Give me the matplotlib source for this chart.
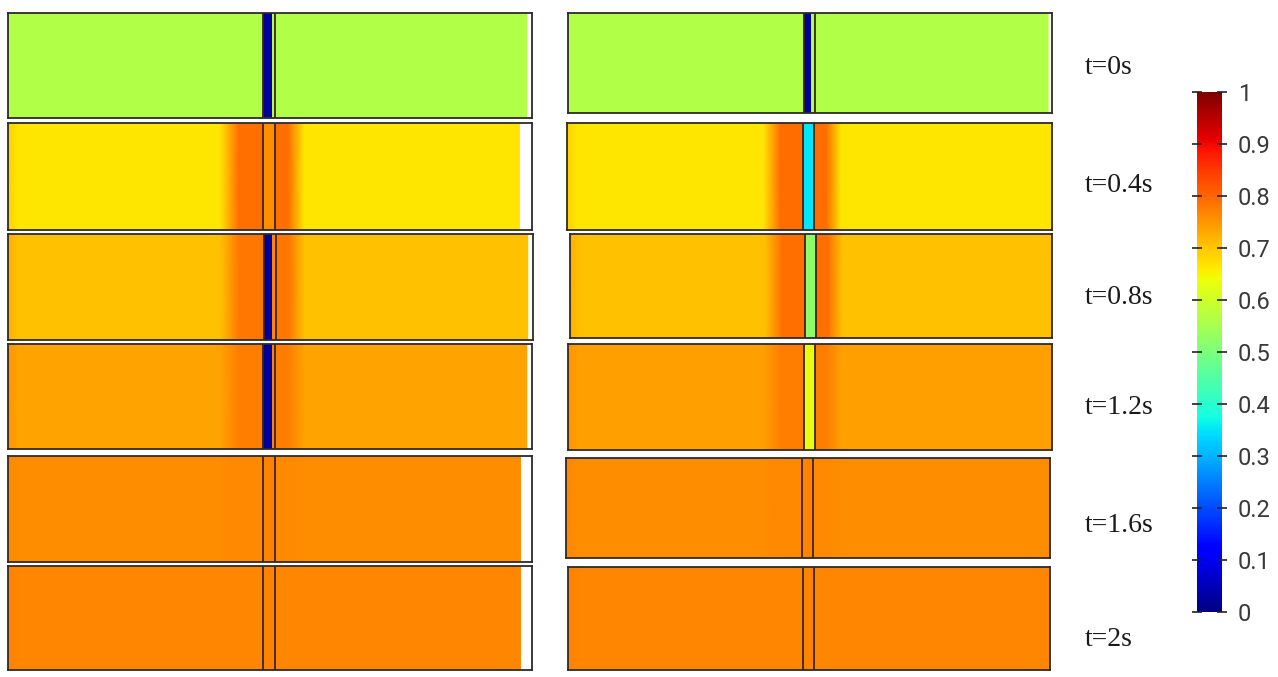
#%% Concentration snapshots either side of the membrane, two cases side by side
import numpy as np
import matplotlib
matplotlib.use('Agg')
import matplotlib.pyplot as plt

#%% Data (normalised concentration, 0..1)
times = ['t=0s', 't=0.4s', 't=0.8s', 't=1.2s', 't=1.6s', 't=2s']

# left column (case A)
edge_A  = [0.565, 0.690, 0.725, 0.750, 0.765, 0.770]  # at the outer wall
bulk_A  = [0.565, 0.665, 0.705, 0.735, 0.758, 0.768]  # far from membrane
band_A  = [0.565, 0.790, 0.785, 0.775, 0.765, 0.768]  # next to membrane
membA_1 = [0.030, 0.760, 0.030, 0.030, 0.770, 0.770]  # membrane, first layer
membA_2 = [0.565, 0.760, 0.770, 0.770, 0.770, 0.770]  # membrane, second layer

# right column (case B)
edge_B  = [0.565, 0.690, 0.725, 0.752, 0.766, 0.770]
bulk_B  = [0.565, 0.665, 0.705, 0.740, 0.760, 0.768]
band_B  = [0.565, 0.795, 0.790, 0.775, 0.765, 0.768]
membB_1 = [0.030, 0.350, 0.520, 0.630, 0.770, 0.770]
membB_2 = [0.565, 0.350, 0.520, 0.630, 0.770, 0.770]

#%% Layout (pixel boxes in the 1278x677 figure)
W, H = 1278., 677.
boxA = [(8, 13, 532, 118), (8, 123, 532, 230), (8, 234, 533, 340),
        (8, 344, 532, 449), (8, 456, 532, 562), (8, 566, 532, 670)]
boxB = [(568, 13, 1052, 113), (567, 123, 1052, 230), (570, 234, 1052, 338),
        (568, 344, 1052, 450), (566, 458, 1050, 558), (568, 567, 1050, 670)]
fillA = [0.990, 0.976, 0.990, 0.990, 0.978, 0.978]  # white strip at right end
fillB = [0.992, 1.0, 1.0, 1.0, 1.0, 1.0]
label_y = [68, 185, 297, 408, 525, 640]

# membrane and band positions along the channel (domain 0..1)
m0, mmid, m1 = 0.487, 0.503, 0.510
xl = [0.0, 0.02, 0.405, 0.44, m0]
xr = [m1, 0.535, 0.565]

cmap = 'jet'
line_col = '#3a2418'


def add_ax(fig, box):
    x0, y0, x1, y1 = box
    return fig.add_axes([x0 / W, 1 - y1 / H, (x1 - x0) / W, (y1 - y0) / H])


def draw_panel(ax, edge, bulk, band, mem1, mem2, fill_end):
    """ one snapshot: smooth field on each side, flat membrane in between """
    # left side of the membrane
    xs = np.array(xl)
    cs = np.array([edge, bulk, bulk, band, band])
    X, Y = np.meshgrid(xs, [0, 1])
    ax.pcolormesh(X, Y, np.vstack([cs, cs]), shading='gouraud', cmap=cmap,
                  vmin=0, vmax=1)
    # right side of the membrane
    xs = np.array(xr + [fill_end])
    cs = np.array([band, band, bulk, bulk])
    X, Y = np.meshgrid(xs, [0, 1])
    ax.pcolormesh(X, Y, np.vstack([cs, cs]), shading='gouraud', cmap=cmap,
                  vmin=0, vmax=1)
    # membrane (two layers)
    X, Y = np.meshgrid([m0, mmid, m1], [0, 1])
    ax.pcolormesh(X, Y, np.array([[mem1, mem2]]), shading='flat', cmap=cmap,
                  vmin=0, vmax=1)
    ax.axvline(m0, color=line_col, lw=1.3)
    ax.axvline(m1, color=line_col, lw=1.3)
    ax.set_xlim(0, 1)
    ax.set_ylim(0, 1)
    ax.set_xticks([])
    ax.set_yticks([])
    for s in ax.spines.values():
        s.set_color('#2e2a28')
        s.set_linewidth(1.3)


fig = plt.figure(figsize=(12.78, 6.77), dpi=100)

for i in range(len(times)):
    axA = add_ax(fig, boxA[i])
    draw_panel(axA, edge_A[i], bulk_A[i], band_A[i], membA_1[i], membA_2[i], fillA[i])
    axB = add_ax(fig, boxB[i])
    draw_panel(axB, edge_B[i], bulk_B[i], band_B[i], membB_1[i], membB_2[i], fillB[i])
    fig.text(1085 / W, 1 - label_y[i] / H, times[i], ha='left', va='center',
             family='Liberation Serif', fontsize=20, color='#1a1a1a')

#%% Colour bar
cax = fig.add_axes([1197 / W, 1 - 612 / H, 25 / W, (612 - 92) / H])
sm = matplotlib.cm.ScalarMappable(cmap=cmap, norm=matplotlib.colors.Normalize(0, 1))
cb = fig.colorbar(sm, cax=cax)
cb.outline.set_visible(False)
cb.set_ticks(np.arange(0, 1.01, 0.1))
cb.set_ticklabels(['0', '0.1', '0.2', '0.3', '0.4', '0.5', '0.6', '0.7', '0.8', '0.9', '1'])
cax.tick_params(axis='y', direction='inout', left=True, right=True, length=7,
                width=1.2, color='#222222', pad=8, labelsize=17, labelcolor='#3a3a3a')
for t in cax.get_yticklabels():
    t.set_family('Roboto')

fig.savefig('out.png', dpi=100)
